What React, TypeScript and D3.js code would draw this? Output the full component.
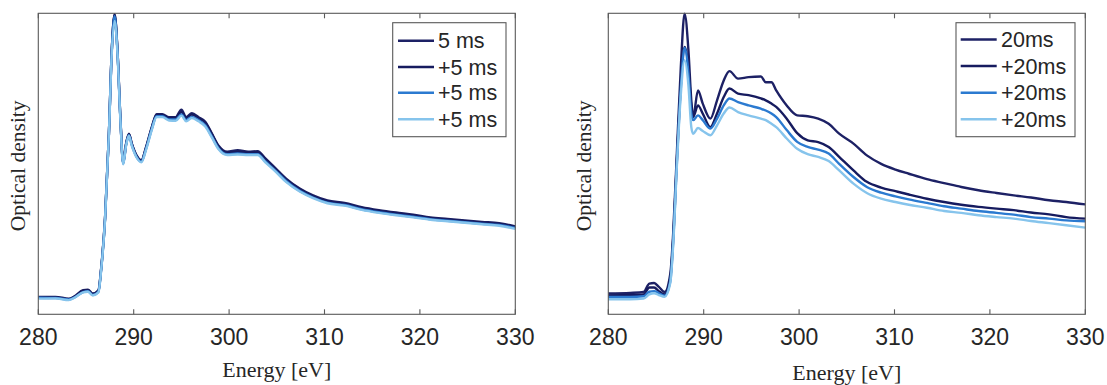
import React from "react";
import * as d3 from "d3";

// ---------- data ----------
const xTicks = [280, 290, 300, 310, 320, 330];

const energyLeft = [280, 281.8, 283.2, 283.8, 284.7, 285.2, 285.7, 286.3, 286.6, 287.0, 287.4, 287.7, 288.0, 288.3, 288.6, 288.9, 289.2, 289.5, 289.8, 290.3, 290.8, 291.3, 291.9, 292.4, 293.0, 293.7, 294.4, 295.0, 295.5, 296.1, 296.8, 297.5, 298.2, 298.9, 299.8, 300.9, 302.0, 303.0, 303.8, 304.9, 306.0, 307.4, 308.8, 310.3, 312.1, 313.9, 315.7, 317.5, 319.3, 321.1, 322.9, 324.7, 326.5, 328.3, 330];
const od5msA = [0.058, 0.058, 0.052, 0.06, 0.08, 0.082, 0.069, 0.08, 0.157, 0.323, 0.6, 0.877, 0.997, 0.877, 0.656, 0.504, 0.567, 0.6, 0.567, 0.528, 0.512, 0.556, 0.622, 0.665, 0.665, 0.655, 0.655, 0.68, 0.655, 0.668, 0.655, 0.64, 0.6, 0.56, 0.54, 0.545, 0.54, 0.542, 0.518, 0.484, 0.45, 0.418, 0.395, 0.378, 0.37, 0.356, 0.346, 0.338, 0.331, 0.322, 0.317, 0.312, 0.307, 0.303, 0.292];
const od5msB = [0.055, 0.056, 0.05, 0.058, 0.078, 0.08, 0.066, 0.077, 0.155, 0.32, 0.6, 0.875, 0.995, 0.875, 0.655, 0.502, 0.565, 0.598, 0.566, 0.526, 0.51, 0.554, 0.62, 0.662, 0.662, 0.652, 0.652, 0.672, 0.652, 0.664, 0.652, 0.636, 0.598, 0.557, 0.537, 0.54, 0.537, 0.538, 0.515, 0.481, 0.447, 0.415, 0.392, 0.375, 0.367, 0.353, 0.343, 0.335, 0.328, 0.319, 0.314, 0.309, 0.304, 0.3, 0.29];
const od5msC = [0.055, 0.054, 0.049, 0.056, 0.074, 0.077, 0.064, 0.075, 0.152, 0.318, 0.598, 0.872, 0.99, 0.872, 0.652, 0.5, 0.562, 0.595, 0.562, 0.523, 0.507, 0.55, 0.616, 0.658, 0.658, 0.647, 0.647, 0.664, 0.645, 0.656, 0.645, 0.628, 0.59, 0.551, 0.532, 0.534, 0.532, 0.532, 0.508, 0.476, 0.442, 0.41, 0.388, 0.371, 0.363, 0.349, 0.339, 0.331, 0.324, 0.316, 0.311, 0.306, 0.301, 0.297, 0.287];
const od5msD = [0.052, 0.053, 0.047, 0.055, 0.073, 0.075, 0.063, 0.073, 0.15, 0.316, 0.595, 0.865, 0.975, 0.865, 0.648, 0.498, 0.56, 0.593, 0.56, 0.521, 0.505, 0.547, 0.613, 0.655, 0.655, 0.644, 0.643, 0.66, 0.641, 0.652, 0.641, 0.624, 0.587, 0.548, 0.529, 0.531, 0.529, 0.529, 0.505, 0.473, 0.439, 0.408, 0.386, 0.369, 0.361, 0.347, 0.337, 0.329, 0.322, 0.314, 0.309, 0.304, 0.299, 0.294, 0.284];

const energyRight = [280, 282.3, 283.7, 284.3, 284.8, 285.3, 285.9, 286.5, 286.8, 287.2, 287.6, 288.0, 288.4, 288.7, 288.9, 289.4, 289.9, 290.7, 291.4, 292.1, 292.7, 293.6, 294.7, 296.0, 296.5, 297.1, 297.6, 298.7, 299.8, 300.9, 302.0, 303.1, 304.2, 305.7, 307.1, 308.6, 310.1, 311.5, 313.4, 315.2, 317.0, 318.8, 320.7, 322.5, 324.3, 326.2, 328.0, 330];
const od20msA = [0.069, 0.071, 0.074, 0.102, 0.104, 0.091, 0.074, 0.135, 0.268, 0.545, 0.82, 0.999, 0.877, 0.711, 0.656, 0.744, 0.7, 0.65, 0.711, 0.777, 0.808, 0.783, 0.788, 0.79, 0.771, 0.771, 0.744, 0.694, 0.661, 0.658, 0.65, 0.633, 0.6, 0.567, 0.528, 0.5, 0.481, 0.467, 0.449, 0.436, 0.423, 0.412, 0.403, 0.395, 0.388, 0.379, 0.373, 0.365];
const od20msB = [0.063, 0.064, 0.066, 0.089, 0.089, 0.077, 0.066, 0.12, 0.25, 0.52, 0.76, 0.888, 0.82, 0.689, 0.656, 0.694, 0.667, 0.622, 0.667, 0.722, 0.75, 0.733, 0.728, 0.717, 0.711, 0.7, 0.689, 0.65, 0.602, 0.578, 0.572, 0.556, 0.523, 0.478, 0.44, 0.421, 0.409, 0.398, 0.384, 0.373, 0.364, 0.357, 0.351, 0.346, 0.338, 0.332, 0.323, 0.318];
const od20msC = [0.058, 0.058, 0.06, 0.075, 0.077, 0.07, 0.062, 0.11, 0.24, 0.51, 0.75, 0.885, 0.8, 0.667, 0.645, 0.661, 0.645, 0.617, 0.65, 0.694, 0.717, 0.705, 0.694, 0.683, 0.677, 0.667, 0.655, 0.612, 0.573, 0.556, 0.547, 0.534, 0.5, 0.456, 0.423, 0.404, 0.392, 0.382, 0.37, 0.359, 0.351, 0.343, 0.337, 0.331, 0.323, 0.318, 0.312, 0.309];
const od20msD = [0.05, 0.05, 0.052, 0.066, 0.07, 0.064, 0.058, 0.105, 0.23, 0.5, 0.73, 0.844, 0.76, 0.622, 0.6, 0.619, 0.609, 0.595, 0.628, 0.667, 0.687, 0.672, 0.661, 0.65, 0.645, 0.633, 0.622, 0.584, 0.55, 0.532, 0.523, 0.509, 0.478, 0.434, 0.403, 0.384, 0.373, 0.364, 0.354, 0.343, 0.337, 0.329, 0.323, 0.318, 0.31, 0.303, 0.296, 0.288];

const labelsLeft = ["5 ms", "+5 ms", "+5 ms", "+5 ms"];
const labelsRight = ["20ms", "+20ms", "+20ms", "+20ms"];
const colors = ["#1d2165", "#161b5f", "#2b7ad0", "#86c4ec"];

// ---------- layout ----------
const W = 1107;
const H = 385;
const TOP = 13.3;
const BOTTOM = 314.3;
const SANS = "'Liberation Sans', Arial, Helvetica, sans-serif";
const SERIF = "'Liberation Serif', 'Times New Roman', Times, serif";
const TEXT = "#262626";
const AXIS = "#5a5a5a";

type PanelProps = {
  x0: number;
  x1: number;
  energy: number[];
  series: number[][];
  labels: string[];
  legend: { x0: number; x1: number; lineX0: number; lineX1: number; textX: number; rows: number[] };
  xLabelY: number;
  yLabelX: number;
};

function Panel({ x0, x1, energy, series, labels, legend, xLabelY, yLabelX }: PanelProps) {
  const x = d3.scaleLinear().domain([280, 330]).range([x0, x1]);
  const y = d3.scaleLinear().domain([0, 1]).range([BOTTOM, TOP]);
  const line = d3
    .line<number>()
    .x((_, i) => x(energy[i]))
    .y((d) => y(d))
    .curve(d3.curveMonotoneX);
  const midX = (x0 + x1) / 2;
  const midY = (TOP + BOTTOM) / 2;
  return (
    <g>
      <defs>
        <clipPath id={`clip-${Math.round(x0)}`}>
          <rect x={x0} y={TOP - 3} width={x1 - x0} height={BOTTOM - TOP + 3} />
        </clipPath>
      </defs>
      <g clipPath={`url(#clip-${Math.round(x0)})`}>
        {series.map((s, i) => (
          <path
            key={i}
            d={line(s) || ""}
            fill="none"
            stroke={colors[i]}
            strokeWidth={2.4}
            strokeLinejoin="round"
            strokeLinecap="round"
          />
        ))}
      </g>
      <rect x={x0} y={TOP} width={x1 - x0} height={BOTTOM - TOP} fill="none" stroke={AXIS} strokeWidth={1.1} />
      {xTicks.map((t) => (
        <g key={t}>
          <line x1={x(t)} x2={x(t)} y1={BOTTOM} y2={BOTTOM - 5} stroke={AXIS} strokeWidth={1.1} />
          <line x1={x(t)} x2={x(t)} y1={TOP} y2={TOP + 5} stroke={AXIS} strokeWidth={1.1} />
          <text x={x(t)} y={345} textAnchor="middle" fontFamily={SANS} fontSize={23} fill={TEXT}>
            {t}
          </text>
        </g>
      ))}
      <text x={midX} y={xLabelY} textAnchor="middle" fontFamily={SERIF} fontSize={22} fill={TEXT}>
        Energy [eV]
      </text>
      <text
        transform={`translate(${yLabelX},${midY + 2}) rotate(-90)`}
        textAnchor="middle"
        fontFamily={SERIF}
        fontSize={21.5}
        fill={TEXT}
      >
        Optical density
      </text>
      <rect
        x={legend.x0}
        y={22.7}
        width={legend.x1 - legend.x0}
        height={114}
        fill="#ffffff"
        stroke={AXIS}
        strokeWidth={1.1}
      />
      {labels.map((lab, i) => (
        <g key={i}>
          <line
            x1={legend.lineX0}
            x2={legend.lineX1}
            y1={legend.rows[i]}
            y2={legend.rows[i]}
            stroke={colors[i]}
            strokeWidth={2.5}
          />
          <text x={legend.textX} y={legend.rows[i] + 7.5} fontFamily={SANS} fontSize={21.5} fill={TEXT}>
            {lab}
          </text>
        </g>
      ))}
    </g>
  );
}

export default function App() {
  return (
    <svg
      width={W}
      height={H}
      viewBox={`0 0 ${W} ${H}`}
      style={{ position: "absolute", left: 0, top: 0, background: "#ffffff" }}
    >
      <rect x={0} y={0} width={W} height={H} fill="#ffffff" />
      <Panel
        x0={38.3}
        x1={515.3}
        energy={energyLeft}
        series={[od5msA, od5msB, od5msC, od5msD]}
        labels={labelsLeft}
        legend={{ x0: 392.7, x1: 506, lineX0: 398, lineX1: 434, textX: 438, rows: [40.7, 67, 92.7, 119.3] }}
        xLabelY={377}
        yLabelX={25}
      />
      <Panel
        x0={608.3}
        x1={1085.3}
        energy={energyRight}
        series={[od20msA, od20msB, od20msC, od20msD]}
        labels={labelsRight}
        legend={{ x0: 956, x1: 1075, lineX0: 960.7, lineX1: 996.7, textX: 1001, rows: [39.5, 66, 92.7, 119.3] }}
        xLabelY={379.5}
        yLabelX={591}
      />
    </svg>
  );
}
